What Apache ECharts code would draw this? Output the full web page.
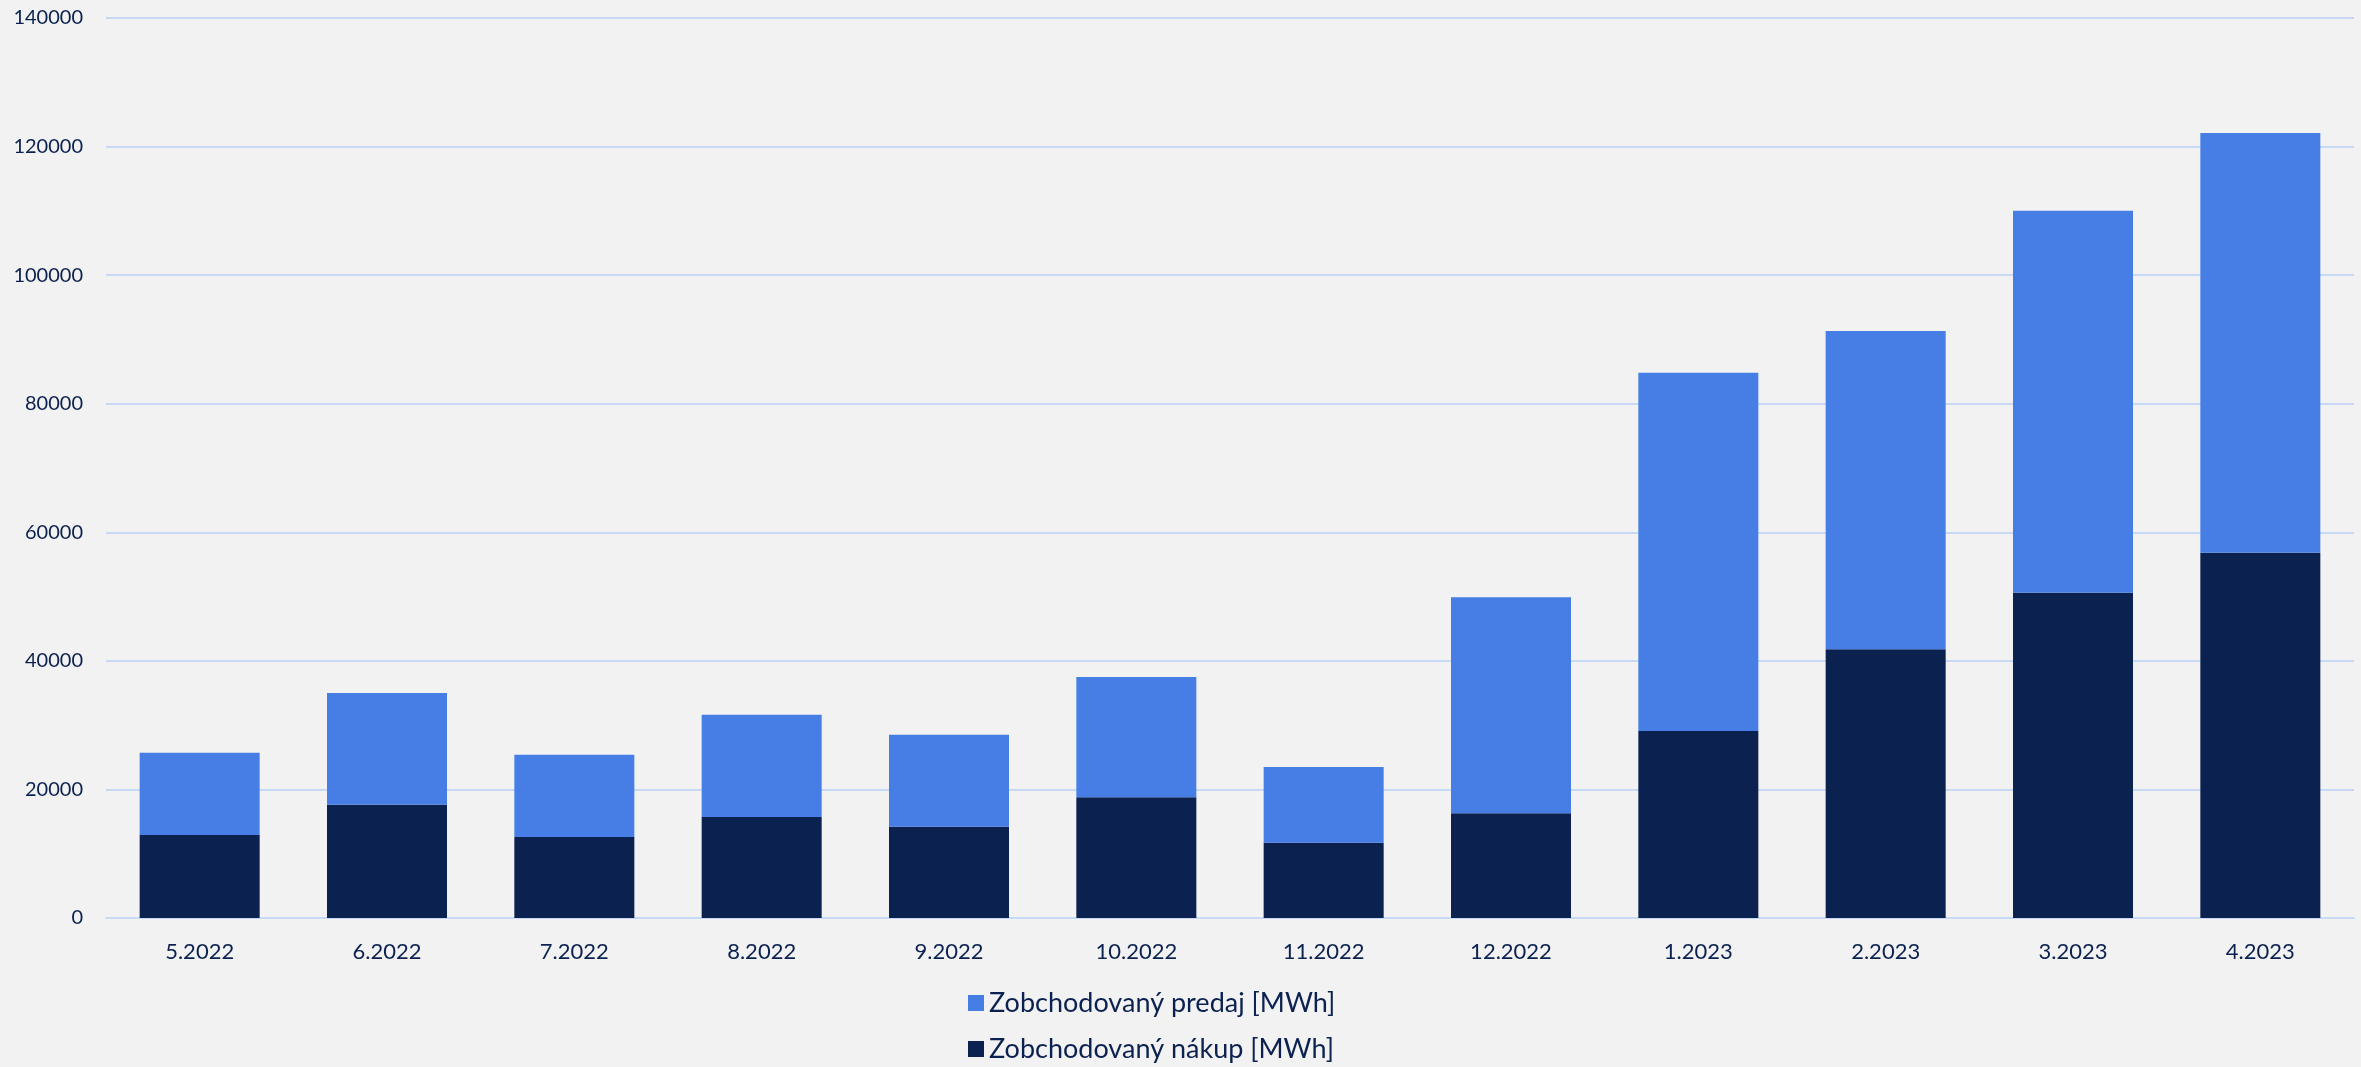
<!DOCTYPE html>
<html>
<head>
<meta charset="utf-8">
<title>Zobchodovaný objem</title>
<script src="https://cdn.jsdelivr.net/npm/echarts@6/dist/echarts.min.js"></script>
<style>
  html, body { margin: 0; padding: 0; background: #f2f2f2; }
  #volume_bars { width: 2361px; height: 1067px; }
</style>
</head>
<body>
<div id="volume_bars"></div>
<script>
// Chart data
// ------------------------------

var months = ["5.2022", "6.2022", "7.2022", "8.2022", "9.2022", "10.2022",
  "11.2022", "12.2022", "1.2023", "2.2023", "3.2023", "4.2023"];

// Zobchodovaný nákup [MWh] (bottom part of each bar)
var nakup = [12900, 17600, 12600, 15700, 14200, 18800, 11700, 16300, 29100, 41800, 50600, 56800];

// Zobchodovaný predaj [MWh] (stacked on top)
var predaj = [12800, 17400, 12800, 15900, 14300, 18700, 11800, 33600, 55700, 49500, 59400, 65300];

var seriesNames = ["Zobchodovaný predaj [MWh]", "Zobchodovaný nákup [MWh]"];

// Setup module
// ------------------------------

var VolumeBarsChart = (function () {
  var _volumeBars = function () {
    if (typeof echarts == "undefined") {
      console.warn("Warning - echarts.min.js is not loaded.");
      return;
    }

    var bars_element = document.getElementById("volume_bars");
    if (!bars_element) return;

    var bars = echarts.init(bars_element);
    var textColor = "#0b2150";
    var gridColor = "#c7d9f5";

    // One legend per row, stacked under the axis
    var legendRow = function (name, top) {
      return {
        data: [name],
        left: 968,
        top: top,
        padding: 0,
        itemWidth: 16,
        itemHeight: 16,
        icon: "rect",
        textStyle: {
          color: textColor,
          fontSize: 27,
          lineHeight: 28,
          fontFamily: "Lato, sans-serif"
        }
      };
    };

    bars.setOption({
      backgroundColor: "#f2f2f2",
      animation: false,

      textStyle: {
        fontFamily: "Lato, 'Open Sans', sans-serif",
        color: textColor
      },

      grid: {
        left: 106,
        right: 7,
        top: 18,
        bottom: 149
      },

      legend: [legendRow(seriesNames[0], 989), legendRow(seriesNames[1], 1035)],

      xAxis: {
        type: "category",
        data: months,
        axisTick: { show: false },
        axisLine: {
          lineStyle: { color: gridColor, width: 2 }
        },
        axisLabel: {
          color: textColor,
          fontSize: 22,
          margin: 23
        }
      },

      yAxis: {
        type: "value",
        min: 0,
        max: 140000,
        interval: 20000,
        axisLine: { show: false },
        axisTick: { show: false },
        axisLabel: {
          color: textColor,
          fontSize: 20,
          margin: 23,
          formatter: function (value) {
            return String(value);
          }
        },
        splitLine: {
          lineStyle: { color: gridColor, width: 2 }
        }
      },

      series: [
        {
          name: seriesNames[1],
          type: "bar",
          stack: "total",
          barWidth: 120,
          itemStyle: { color: "#0b2150" },
          data: nakup
        },
        {
          name: seriesNames[0],
          type: "bar",
          stack: "total",
          barWidth: 120,
          itemStyle: { color: "#467ee6" },
          data: predaj
        }
      ]
    });

    window.addEventListener("resize", function () {
      bars.resize();
    });
  };

  return {
    init: function () {
      _volumeBars();
    }
  };
})();

document.addEventListener("DOMContentLoaded", function () {
  VolumeBarsChart.init();
});
</script>
</body>
</html>
